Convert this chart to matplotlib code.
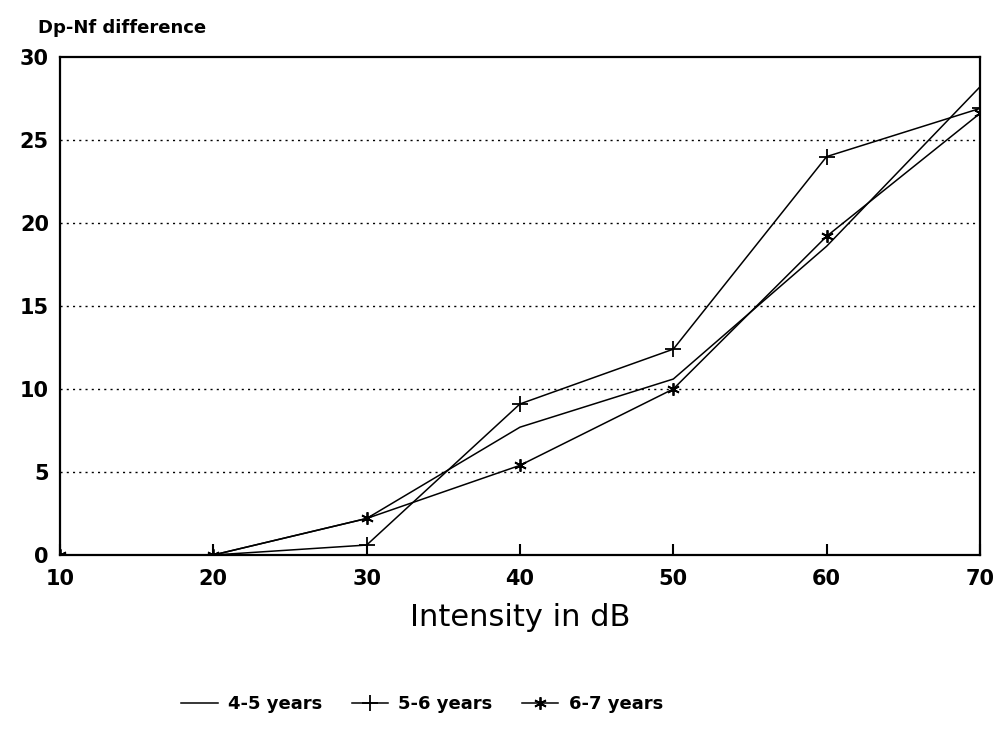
import numpy as np
import matplotlib
matplotlib.use("Agg")
import matplotlib.pyplot as plt

# intensity levels (dB) and Dp-Nf difference per age group
intensity = [10, 20, 30, 40, 50, 60, 70]
age_4_5 = [0, 0, 2.2, 7.7, 10.6, 18.6, 28.2]
age_5_6 = [0, 0, 0.6, 9.1, 12.4, 24.0, 26.9]
age_6_7 = [0, 0, 2.2, 5.4, 10.0, 19.2, 26.6]
series_labels = ["4-5 years", "5-6 years", "6-7 years"]
yticks = [0, 5, 10, 15, 20, 25, 30]

fig = plt.figure(figsize=(10.05, 7.4), dpi=100)
ax = fig.add_axes([0.0597, 0.25, 0.9154, 0.673])

ax.plot(intensity, age_4_5, color="black", lw=1.1, label=series_labels[0])
ax.plot(intensity, age_5_6, color="black", lw=1.1, marker="+", ms=12, mew=1.3,
        label=series_labels[1])
ax.plot(intensity, age_6_7, color="black", lw=1.1, marker=(6, 2, 0), ms=9, mew=1.3,
        label=series_labels[2])

ax.set_xlim(10, 70)
ax.set_ylim(0, 30)
ax.set_xticks(intensity)
ax.set_yticks(yticks)
for y in yticks[1:-1]:
    ax.axhline(y, color="black", lw=1.0, ls=(0, (1.5, 3)))

ax.tick_params(axis="x", direction="in", length=8, width=1.5, pad=10, labelsize=15)
ax.tick_params(axis="y", length=0, pad=8, labelsize=15)
for lab in ax.get_xticklabels() + ax.get_yticklabels():
    lab.set_fontweight("bold")
for s in ax.spines.values():
    s.set_linewidth(1.6)

ax.set_xlabel("Intensity in dB", fontsize=22, labelpad=10)
fig.text(0.038, 0.955, "Dp-Nf difference", fontsize=13, fontweight="bold")

fig.legend(loc="center", bbox_to_anchor=(0.42, 0.048), ncol=3, frameon=False,
           handlelength=2.0, handletextpad=0.6, columnspacing=1.6,
           prop={"weight": "bold", "size": 13})

fig.savefig("out.png", dpi=100)
